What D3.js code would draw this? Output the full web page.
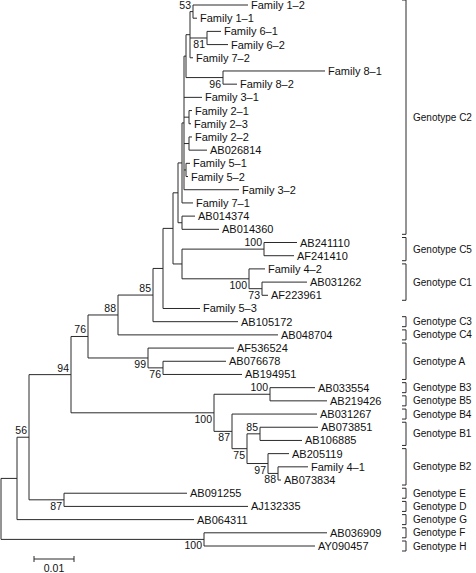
<!DOCTYPE html>
<html><head><meta charset="utf-8">
<script src="https://d3js.org/d3.v7.min.js"></script>
<style>body{margin:0;background:#fff}svg{display:block}</style>
</head><body>
<svg id="chart" width="476" height="573"></svg>
<script>
// ---- data (branch lengths in substitutions/site; internal labels = bootstrap) ----
const cladeC2 = "((((((Family 1–2:0.01375,Family 1–1:0.001)53:0.00075,(Family 6–1:0.0035,Family 6–2:0.00525)81:0.00425,Family 7–2:0.00075):0.001,(Family 8–1:0.0255,Family 8–2:0.0035)96:0.00925):0.0005,Family 3–1:0.0045,(Family 2–1:0.00075,Family 2–3:0.0005):0.00125,(Family 2–2:0.00075,AB026814:0.0045):0.00125,(Family 5–1:0.001,Family 5–2:0.0005):0.0005,Family 3–2:0.01375):0.0005,Family 7–1:0.00275):0.001,(AB014374:0.00325,AB014360:0.00925):0.001)";
const cladeC5C1 = "((AB241110:0.00825,AF241410:0.0075)100:0.0205,(Family 4–2:0.004,(AB031262:0.01125,AF223961:0.0015)73:0.00325)100:0.01675)";
const cladeA = "(AF536524:0.0215,(AB076678:0.01575,AB194951:0.01975)76:0.00375)";
const cladeB = "((AB033554:0.01125,AB219426:0.01425)100:0.014,(AB031267:0.02125,((AB073851:0.0145,AB106885:0.0105)85:0.00325,(AB205119:0.00525,(Family 4–1:0.0075,AB073834:0.00075)88:0.0025)97:0.00525)75:0.00375)87:0.0045)";
const cladeED = "(AB091255:0.03075,AJ132335:0.046)";
const cladeFH = "(AB036909:0.03075,AY090457:0.02775)";

const genotypes = [
  ["Genotype C2", "Family 1–2", "AB014360"],
  ["Genotype C5", "AB241110", "AF241410"],
  ["Genotype C1", "Family 4–2", "AF223961"],
  ["Genotype C3", "AB105172", "AB105172"],
  ["Genotype C4", "AB048704", "AB048704"],
  ["Genotype A", "AF536524", "AB194951"],
  ["Genotype B3", "AB033554", "AB033554"],
  ["Genotype B5", "AB219426", "AB219426"],
  ["Genotype B4", "AB031267", "AB031267"],
  ["Genotype B1", "AB073851", "AB106885"],
  ["Genotype B2", "AB205119", "AB073834"],
  ["Genotype E", "AB091255", "AB091255"],
  ["Genotype D", "AJ132335", "AJ132335"],
  ["Genotype G", "AB064311", "AB064311"],
  ["Genotype F", "AB036909", "AB036909"],
  ["Genotype H", "AY090457", "AY090457"]
];
const scaleBarValue = 0.01;
const scaleBarLabel = "0.01";

// ---- assemble newick ----
const node173 = "(" + cladeC2 + ":0.00125," + cladeC5C1 + ":0.00225)";
const node163 = "(" + node173 + ":0.0025,Family 5–3:0.00925)";
const node85 = "(" + node163 + ":0.0025,AB105172:0.02125)";
const node88 = "(" + node85 + "85:0.00875,AB048704:0.04)";
const node76 = "(" + node88 + "88:0.0075," + cladeA + "99:0.015)";
const node94 = "(" + node76 + "76:0.00425," + cladeB + "100:0.03575)";
const node56 = "(" + node94 + "94:0.0105," + cladeED + "87:0.00875)";
const node17 = "(" + node56 + "56:0.003,AB064311:0.04425)";
const newick = "(" + node17 + ":0.004," + cladeFH + "100:0.05075);";

function parseNewick(s) {
  let ancestors = [], tree = {};
  const tokens = s.split(/\s*(;|\(|\)|,|:)\s*/);
  for (let i = 0; i < tokens.length; i++) {
    const t = tokens[i];
    switch (t) {
      case "(": { const sub = {}; tree.children = [sub]; ancestors.push(tree); tree = sub; break; }
      case ",": { const sub = {}; ancestors[ancestors.length - 1].children.push(sub); tree = sub; break; }
      case ")": tree = ancestors.pop(); break;
      case ":": break;
      default: {
        const p = tokens[i - 1];
        if (p === ")" || p === "(" || p === ",") tree.name = t;
        else if (p === ":") tree.length = parseFloat(t);
      }
    }
  }
  return tree;
}

const root = d3.hierarchy(parseNewick(newick));
root.each(d => { d.dist = d.parent ? d.parent.dist + (d.data.length || 0) : 0; });
const leaves = root.leaves();

const x = d3.scaleLinear().domain([0, 0.1]).range([1, 401]);
const y = d3.scaleLinear().domain([0, leaves.length - 1]).range([5, 546]);
leaves.forEach((d, i) => { d.yy = y(i); });
root.eachAfter(d => { if (d.children) d.yy = (d.children[0].yy + d.children[d.children.length - 1].yy) / 2; });

const svg = d3.select("#chart");
const g = svg.append("g");
const stroke = "#2a2a2a";
const font = "'Liberation Sans', Arial, Helvetica, sans-serif";

// horizontal branches
g.selectAll("line.h").data(root.descendants().filter(d => d.parent)).join("line")
  .attr("x1", d => x(d.parent.dist)).attr("x2", d => x(d.dist))
  .attr("y1", d => d.yy).attr("y2", d => d.yy)
  .attr("stroke", stroke).attr("stroke-width", 1);
// vertical connectors
g.selectAll("line.v").data(root.descendants().filter(d => d.children)).join("line")
  .attr("x1", d => x(d.dist)).attr("x2", d => x(d.dist))
  .attr("y1", d => d.children[0].yy).attr("y2", d => d.children[d.children.length - 1].yy)
  .attr("stroke", stroke).attr("stroke-width", 1);

// leaf labels
g.selectAll("text.leaf").data(leaves).join("text")
  .attr("x", d => x(d.dist) + 3).attr("y", d => d.yy + 4)
  .attr("font-family", font).attr("font-size", 11).attr("fill", "#111")
  .text(d => d.data.name);

// bootstrap labels
const internal = root.descendants().filter(d => d.children && d.parent && d.data.name);
g.selectAll("text.bs").data(internal).join("text")
  .attr("x", d => x(d.dist) - 2)
  .attr("y", d => d.parent.children[0] === d ? d.yy - 3 : d.yy + 10)
  .attr("text-anchor", "end")
  .attr("font-family", font).attr("font-size", 10.5).attr("fill", "#111")
  .text(d => d.data.name);

// genotype brackets
const leafY = name => leaves.find(l => l.data.name === name).yy;
const bx = 406;
const br = svg.append("g").selectAll("g").data(genotypes).join("g");
br.append("path")
  .attr("d", d => { const y1 = leafY(d[1]) - 5, y2 = leafY(d[2]) + 5; return `M${bx - 4},${y1}H${bx}V${y2}H${bx - 4}`; })
  .attr("fill", "none").attr("stroke", stroke).attr("stroke-width", 1);
br.append("text")
  .attr("x", bx + 7).attr("y", d => (leafY(d[1]) + leafY(d[2])) / 2 + 3.5)
  .attr("font-family", font).attr("font-size", 10).attr("fill", "#111")
  .text(d => d[0]);

// scale bar
const sbx = 34, sby = 559;
const sbw = x(scaleBarValue) - x(0);
svg.append("path").attr("d", `M${sbx},${sby - 3}V${sby + 3}M${sbx},${sby}H${sbx + sbw}M${sbx + sbw},${sby - 3}V${sby + 3}`)
  .attr("fill", "none").attr("stroke", stroke).attr("stroke-width", 1);
svg.append("text").attr("x", sbx + sbw / 2).attr("y", 572).attr("text-anchor", "middle")
  .attr("font-family", font).attr("font-size", 10.5).attr("fill", "#111").text(scaleBarLabel);
</script>
</body></html>
